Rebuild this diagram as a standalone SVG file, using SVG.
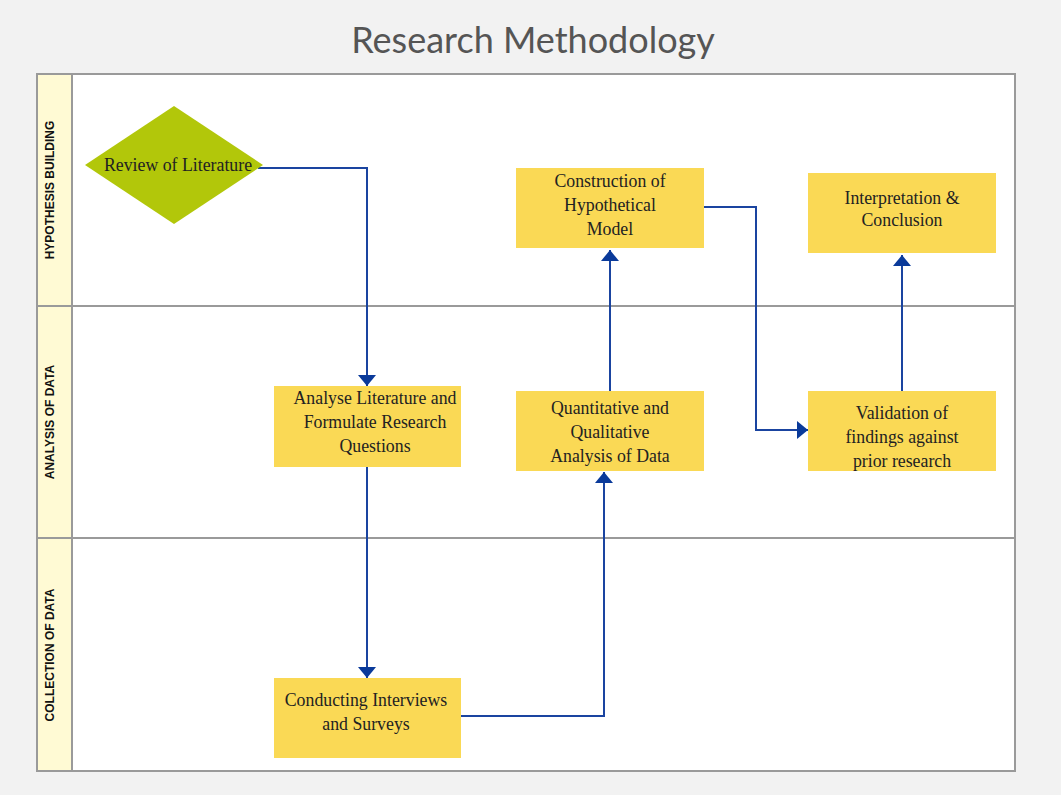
<svg xmlns="http://www.w3.org/2000/svg" width="1061" height="795" viewBox="0 0 1061 795">
<defs>
<style>
.lane{fill:#fff;stroke:#9a9a9a;stroke-width:2}
.hdr{fill:#fffad4;stroke:#9a9a9a;stroke-width:2}
.lbl{font-family:"Liberation Sans",Arial,sans-serif;font-weight:bold;font-size:12px;fill:#111;text-anchor:middle}
.box{fill:#fad955}
.t{font-family:"Liberation Serif","Times New Roman",serif;font-size:17.8px;fill:#222;text-anchor:middle}
.c{fill:none;stroke:#1a44a0;stroke-width:2}
</style>
<marker id="ah" viewBox="0 0 11 18" refX="11" refY="9" markerWidth="11" markerHeight="18" markerUnits="userSpaceOnUse" orient="auto">
<path d="M0,0 L11,9 L0,18 Z" fill="#0a3a9a"/>
</marker>
</defs>
<rect width="1061" height="795" fill="#f2f2f2"/>
<text x="533" y="53" font-family="Lato,'Open Sans',sans-serif" font-size="36" fill="#555" text-anchor="middle">Research Methodology</text>
<g id="lanes">
<rect class="lane" x="37" y="74" width="978" height="697"/>
<rect class="hdr" x="37" y="74" width="35" height="232"/>
<rect class="hdr" x="37" y="306" width="35" height="232"/>
<rect class="hdr" x="37" y="538" width="35" height="233"/>
<line x1="72" y1="306" x2="1015" y2="306" stroke="#9a9a9a" stroke-width="2"/>
<line x1="72" y1="538" x2="1015" y2="538" stroke="#9a9a9a" stroke-width="2"/>
<text class="lbl" transform="translate(54,190) rotate(-90)">HYPOTHESIS BUILDING</text>
<text class="lbl" transform="translate(54,422) rotate(-90)">ANALYSIS OF DATA</text>
<text class="lbl" transform="translate(54,655) rotate(-90)">COLLECTION OF DATA</text>
</g>
<g id="connectors">
<path class="c" d="M258,168 H367 V386" marker-end="url(#ah)"/>
<path class="c" d="M367,467 V678" marker-end="url(#ah)"/>
<path class="c" d="M461,716 H604 V472" marker-end="url(#ah)"/>
<path class="c" d="M610,391 V250" marker-end="url(#ah)"/>
<path class="c" d="M704,207 H756 V430 H808" marker-end="url(#ah)"/>
<path class="c" d="M902,391 V255" marker-end="url(#ah)"/>
</g>
<g id="review">
<polygon points="85,165 174,106 263,165 174,224" fill="#b2c70a"/>
<text class="t" x="178" y="171">Review of Literature</text>
</g>
<g id="construction">
<rect class="box" x="516" y="168" width="188" height="80"/>
<text class="t" x="610" y="187">Construction of</text>
<text class="t" x="610" y="211">Hypothetical</text>
<text class="t" x="610" y="235">Model</text>
</g>
<g id="interpretation">
<rect class="box" x="808" y="173" width="188" height="80"/>
<text class="t" x="902" y="204">Interpretation &amp;</text>
<text class="t" x="902" y="226">Conclusion</text>
</g>
<g id="analyse">
<rect class="box" x="274" y="386" width="187" height="81"/>
<text class="t" x="375" y="404">Analyse Literature and</text>
<text class="t" x="375" y="428">Formulate Research</text>
<text class="t" x="375" y="452">Questions</text>
</g>
<g id="quant">
<rect class="box" x="516" y="391" width="188" height="80"/>
<text class="t" x="610" y="414">Quantitative and</text>
<text class="t" x="610" y="438">Qualitative</text>
<text class="t" x="610" y="462">Analysis of Data</text>
</g>
<g id="validation">
<rect class="box" x="808" y="391" width="188" height="80"/>
<text class="t" x="902" y="419">Validation of</text>
<text class="t" x="902" y="443">findings against</text>
<text class="t" x="902" y="467">prior research</text>
</g>
<g id="conducting">
<rect class="box" x="274" y="678" width="187" height="80"/>
<text class="t" x="366" y="706">Conducting Interviews</text>
<text class="t" x="366" y="730">and Surveys</text>
</g>
</svg>
